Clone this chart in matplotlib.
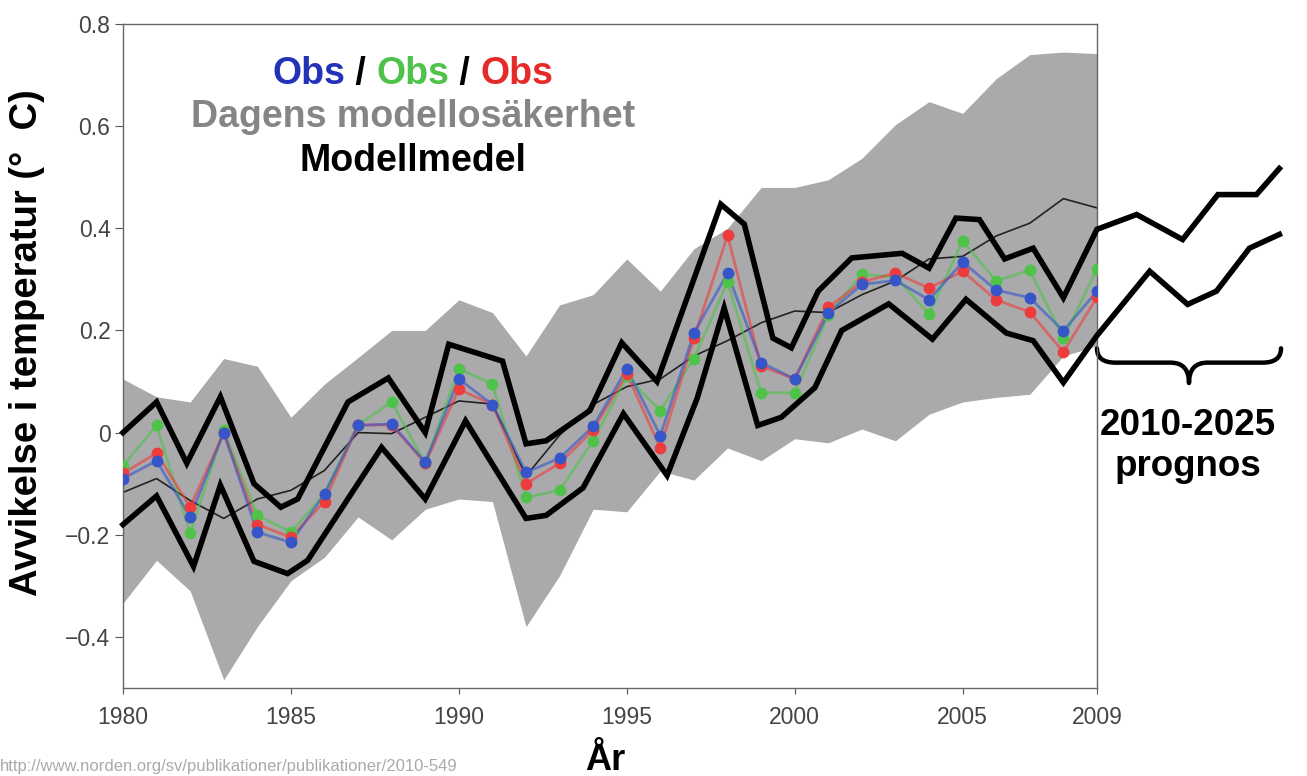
"""Temperaturavvikelse 1980-2009: observationer, modellmedel, modellosäkerhet och prognos."""

import matplotlib
import numpy as np

matplotlib.use("Agg")
import matplotlib.pyplot as plt
from matplotlib.path import Path
from matplotlib.patches import PathPatch

plt.rcParams["font.family"] = ["Liberation Sans", "DejaVu Sans"]

# --- data ---
years = list(range(1980, 2010))

obs_blue = [-0.09, -0.055, -0.165, 0.0, -0.195, -0.215, -0.12, 0.014, 0.017, -0.058,
            0.105, 0.055, -0.078, -0.05, 0.012, 0.125, -0.006, 0.195, 0.312, 0.137,
            0.105, 0.234, 0.29, 0.298, 0.26, 0.334, 0.279, 0.264, 0.199, 0.277]
obs_green = [-0.065, 0.014, -0.197, 0.005, -0.162, -0.195, -0.12, 0.015, 0.06, -0.06,
             0.125, 0.095, -0.127, -0.113, -0.016, 0.11, 0.043, 0.145, 0.295, 0.078,
             0.078, 0.23, 0.31, 0.305, 0.232, 0.375, 0.297, 0.318, 0.185, 0.32]
obs_red = [-0.08, -0.04, -0.146, 0.0, -0.18, -0.205, -0.135, 0.015, 0.015, -0.06,
           0.085, 0.055, -0.10, -0.06, 0.005, 0.115, -0.03, 0.185, 0.386, 0.13,
           0.105, 0.245, 0.295, 0.312, 0.283, 0.316, 0.26, 0.236, 0.158, 0.265]
model_mean = [-0.117, -0.09, -0.133, -0.168, -0.13, -0.113, -0.074, 0.0, -0.002, 0.03,
              0.062, 0.056, -0.085, -0.005, 0.055, 0.09, 0.105, 0.15, 0.18, 0.215,
              0.238, 0.235, 0.27, 0.297, 0.34, 0.345, 0.385, 0.41, 0.458, 0.44]
band_hi = [0.105, 0.07, 0.06, 0.145, 0.13, 0.03, 0.095, 0.147, 0.2, 0.2,
           0.26, 0.235, 0.15, 0.25, 0.27, 0.34, 0.277, 0.36, 0.40, 0.48,
           0.48, 0.495, 0.537, 0.603, 0.648, 0.625, 0.693, 0.74, 0.745, 0.742]
band_lo = [-0.334, -0.25, -0.31, -0.484, -0.38, -0.29, -0.244, -0.165, -0.21, -0.15,
           -0.13, -0.135, -0.38, -0.28, -0.15, -0.155, -0.075, -0.093, -0.03, -0.055,
           -0.012, -0.02, 0.007, -0.016, 0.036, 0.06, 0.069, 0.075, 0.15, 0.17]

# handritade gränser (inkl. prognos 2010-2025 utanför axeln)
upper_x = [1980.0, 1981.0, 1981.9, 1982.9, 1983.9, 1984.7, 1985.2, 1986.7, 1987.9, 1989.0,
           1989.7, 1991.3, 1992.0, 1992.6, 1993.9, 1994.85, 1995.9, 1997.8, 1998.5, 1999.35,
           1999.9, 2000.7, 2001.7, 2003.2, 2004.0, 2004.8, 2005.5, 2006.25, 2007.1, 2008.0,
           2009.0, 2010.18, 2011.55, 2012.6, 2013.75, 2014.43]
upper_y = [0.0, 0.06, -0.06, 0.07, -0.10, -0.146, -0.13, 0.06, 0.107, 0.0,
           0.173, 0.14, -0.022, -0.016, 0.043, 0.176, 0.10, 0.447, 0.408, 0.185,
           0.166, 0.277, 0.342, 0.351, 0.322, 0.42, 0.417, 0.34, 0.361, 0.264,
           0.398, 0.427, 0.378, 0.466, 0.466, 0.517]
lower_x = [1980.0, 1981.0, 1982.1, 1982.9, 1983.9, 1984.9, 1985.5, 1987.7, 1989.0, 1990.2,
           1992.0, 1992.6, 1993.7, 1994.9, 1996.2, 1997.1, 1997.9, 1998.9, 1999.6, 2000.6,
           2001.4, 2002.8, 2004.1, 2005.1, 2006.3, 2007.1, 2008.0, 2009.0, 2010.57, 2011.7,
           2012.56, 2013.54, 2014.43]
lower_y = [-0.18, -0.124, -0.262, -0.103, -0.252, -0.276, -0.25, -0.029, -0.13, 0.023,
           -0.168, -0.162, -0.108, 0.037, -0.084, 0.068, 0.244, 0.014, 0.03, 0.088,
           0.2, 0.252, 0.183, 0.261, 0.195, 0.18, 0.098, 0.19, 0.316, 0.251,
           0.277, 0.361, 0.388]

xticks = [1980, 1985, 1990, 1995, 2000, 2005, 2009]
yticks = [-0.4, -0.2, 0.0, 0.2, 0.4, 0.6, 0.8]
ytick_labels = ["\u22120.4", "\u22120.2", "0", "0.2", "0.4", "0.6", "0.8"]

BLUE, GREEN, RED = "#3555c8", "#4fc24a", "#ee3c3c"


def brace(ax, x0, x1, y_tip, y_line, y_mid):
    # liggande klammer under prognoslinjerna
    xm = (x0 + x1) / 2
    r = (x1 - x0) * 0.1
    verts = [(x0, y_tip), (x0, y_line), (x0 + r, y_line), (xm - r, y_line),
             (xm, y_line), (xm, y_mid), (xm, y_line), (xm + r, y_line),
             (x1 - r, y_line), (x1, y_line), (x1, y_tip)]
    codes = [Path.MOVETO, Path.CURVE3, Path.CURVE3, Path.LINETO,
             Path.CURVE3, Path.CURVE3, Path.CURVE3, Path.CURVE3,
             Path.LINETO, Path.CURVE3, Path.CURVE3]
    ax.add_patch(PathPatch(Path(verts, codes), fill=False, lw=3.2, ec="black",
                           clip_on=False, capstyle="round", joinstyle="round"))


def main():
    fig = plt.figure(figsize=(13.07, 7.76), dpi=100)
    ax = fig.add_axes([0.0941, 0.1134, 0.7452, 0.8557])

    ax.fill_between(years, band_lo, band_hi, color="#aaaaac", lw=0, zorder=1)
    ax.plot(years, model_mean, color="#222222", lw=1.2, zorder=2)
    for vals, c in [(obs_green, GREEN), (obs_red, RED), (obs_blue, BLUE)]:
        ax.plot(years, vals, color=c, lw=2.0, alpha=0.6, zorder=3)
        ax.plot(years, vals, ls="none", marker="o", ms=8.5, mfc=c, mec="none", zorder=4)
    for xs, ys in [(upper_x, upper_y), (lower_x, lower_y)]:
        ax.plot(xs, ys, color="black", lw=4, solid_joinstyle="miter",
                clip_on=False, zorder=5)
    brace(ax, years[-1], upper_x[-1] + 0.05, 0.165, 0.137, 0.097)

    ax.set_xlim(1980, 2009)
    ax.set_ylim(-0.5, 0.8)
    ax.set_xticks(xticks)
    ax.set_yticks(yticks)
    ax.set_yticklabels(ytick_labels)
    ax.tick_params(axis="x", direction="out", length=4, pad=9, labelsize=16.5,
                   colors="#555555", labelcolor="#444444")
    ax.tick_params(axis="y", direction="out", length=6, pad=3, labelsize=16.5,
                   colors="#555555", labelcolor="#444444")
    for sp in ax.spines.values():
        sp.set_color("#666666")
        sp.set_linewidth(1.0)

    # förklaring som fristående text
    W, H = 1307, 776
    bold = dict(fontsize=27, fontweight="bold")
    mid = fig.text(413 / W, 1 - 84 / H, "Obs", color=GREEN, ha="center",
                   va="baseline", **bold)
    s_left = ax.annotate(" / ", xy=(0, 0), xycoords=mid, ha="right", va="bottom",
                         color="black", **bold)
    ax.annotate("Obs", xy=(0, 0), xycoords=s_left, ha="right", va="bottom",
                color="#2233b8", **bold)
    s_right = ax.annotate(" / ", xy=(1, 0), xycoords=mid, ha="left", va="bottom",
                          color="black", **bold)
    ax.annotate("Obs", xy=(1, 0), xycoords=s_right, ha="left", va="bottom",
                color="#e52a2a", **bold)
    fig.text(413 / W, 1 - 127 / H, "Dagens modellosäkerhet", color="#858585",
             ha="center", va="baseline", **bold)
    fig.text(413 / W, 1 - 171 / H, "Modellmedel", color="black",
             ha="center", va="baseline", **bold)

    fig.text(1188 / W, 1 - 425 / H, "2010-2025", fontsize=26.5, fontweight="bold",
             ha="center", va="center")
    fig.text(1188 / W, 1 - 466 / H, "prognos", fontsize=26.5, fontweight="bold",
             ha="center", va="center")

    fig.text(27 / W, 1 - 343 / H, "Avvikelse i temperatur (°  C)", fontsize=27.5,
             fontweight="bold", rotation=90, ha="center", va="center")
    fig.text(605 / W, 1 - 770 / H, "År", fontsize=26, fontweight="bold",
             ha="center", va="baseline")
    fig.text(0.0, 0.002, "http://www.norden.org/sv/publikationer/publikationer/2010-549",
             fontsize=12, color="#aaaaaa", ha="left", va="bottom")

    fig.savefig("out.png", dpi=100)


if __name__ == "__main__":
    main()
